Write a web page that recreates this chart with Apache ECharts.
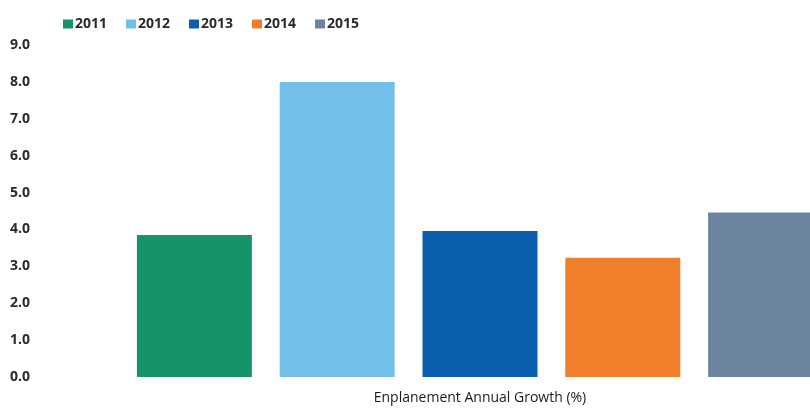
<!DOCTYPE html>
<html lang="en">
<head>
    <meta charset="UTF-8">
    <title>Enplanement Annual Growth</title>
    <script src="https://cdn.jsdelivr.net/npm/echarts@6/dist/echarts.min.js"></script>
    <style>
        body { margin: 0; background: #fff; }
    </style>
</head>
<body>
    <div id="main" style="width: 810px;height: 409px"></div>
    <script type="text/javascript">
        var years = ['2011', '2012', '2013', '2014', '2015'];
        var growth = [3.85, 8.0, 3.96, 3.23, 4.46];
        var colors = ['#159467', '#72bfea', '#0b5fae', '#f07e2b', '#6c84a0'];
        var yTicks = { min: 0, max: 9, interval: 1 };

        var series = [];
        for (var i = 0; i < years.length; i++) {
            var d = [];
            for (var j = 0; j < years.length; j++) {
                d.push(i === j ? growth[i] : null);
            }
            series.push({
                name: years[i],
                type: 'bar',
                stack: 'all',
                barWidth: 115,
                itemStyle: { color: colors[i] },
                data: d
            });
        }

        var option = {
            textStyle: { fontFamily: 'Open Sans' },
            legend: {
                left: 58,
                top: 12,
                itemWidth: 10,
                itemHeight: 9,
                itemGap: 19,
                icon: 'rect',
                textStyle: { fontSize: 14, fontWeight: 'bold', color: '#2a2a2a', padding: [0, 0, 0, -3] },
                data: years
            },
            grid: {
                left: 123,
                top: 45,
                right: -27,
                bottom: 32,
                outerBoundsMode: 'none',
                containLabel: false
            },
            xAxis: {
                type: 'category',
                data: years,
                axisLine: { show: false },
                axisTick: { show: false },
                axisLabel: { show: false },
                name: 'Enplanement Annual Growth (%)',
                nameLocation: 'middle',
                nameGap: 14,
                nameTextStyle: { fontSize: 14, color: '#1a1a1a', fontWeight: 500 }
            },
            yAxis: {
                type: 'value',
                min: yTicks.min,
                max: yTicks.max,
                interval: yTicks.interval,
                splitLine: { show: false },
                axisLine: { show: false },
                axisTick: { show: false },
                axisLabel: {
                    align: 'left',
                    margin: 113,
                    fontSize: 14,
                    fontWeight: 'bold',
                    color: '#2a2a2a',
                    formatter: function (v) { return v.toFixed(1); }
                }
            },
            series: series
        };

        var myChart = echarts.init(document.getElementById('main'));
        myChart.setOption(option);
    </script>
</body>
</html>
